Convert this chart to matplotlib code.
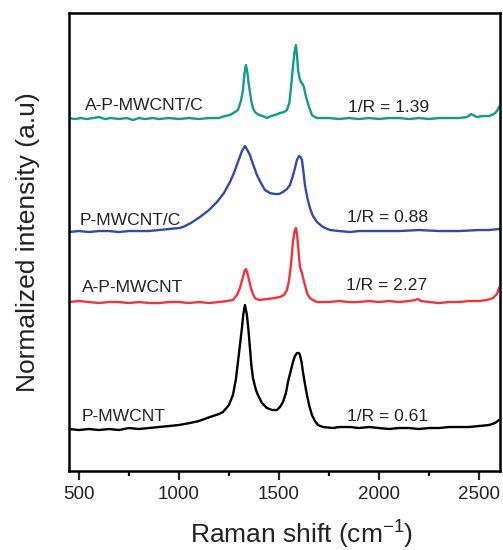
import matplotlib
matplotlib.use("Agg")
import matplotlib.pyplot as plt
from matplotlib.ticker import MultipleLocator

plt.rcParams.update({
    "font.family": ["Liberation Sans", "DejaVu Sans"],
    "mathtext.default": "regular",
})

TEAL = "#119A8F"
BLUE = "#3549A8"
RED = "#F2333B"
BLACK = "#000000"

# spectra (Raman shift in cm-1, stacked intensity in a.u.)
x_pmwcnt = [450, 500, 550, 600, 650, 700, 750, 800, 850, 900, 950, 1000, 1055, 1100,
            1155, 1200, 1220, 1250, 1270, 1285, 1295, 1305, 1315, 1322, 1330, 1340,
            1348, 1355, 1362, 1370, 1385, 1395, 1415, 1440, 1465, 1490, 1505, 1520,
            1535, 1545, 1560, 1570, 1580, 1590, 1600, 1605, 1613, 1620, 1630, 1640,
            1652, 1665, 1680, 1695, 1720, 1770, 1800, 1855, 1900, 1950, 2000, 2050,
            2100, 2150, 2200, 2250, 2300, 2350, 2400, 2450, 2500, 2550, 2580, 2600]
y_pmwcnt = [42, 41, 42, 41, 42, 41, 43, 42, 43, 44, 45, 46, 48, 50,
            54, 57, 59, 66, 76, 92, 109, 126, 143, 157, 166, 156,
            140, 123, 106, 93, 81, 76, 68, 63, 61, 61, 64, 69,
            78, 89, 101, 109, 115, 118, 118, 116, 109, 99, 87, 76,
            65, 56, 50, 46, 44, 43, 44, 44, 43, 44, 43, 42,
            43, 43, 42, 43, 43, 44, 44, 44, 45, 46, 48, 51]

x_apmwcnt = [450, 500, 550, 600, 650, 700, 750, 800, 850, 900, 950, 1000, 1050, 1100,
             1150, 1200, 1240, 1270, 1290, 1305, 1320, 1328, 1335, 1342, 1348, 1360,
             1370, 1380, 1400, 1440, 1480, 1505, 1525, 1540, 1550, 1560, 1570, 1578,
             1585, 1591, 1597, 1605, 1615, 1622, 1630, 1642, 1655, 1670, 1690, 1750,
             1800, 1850, 1900, 1950, 2000, 2050, 2100, 2150, 2180, 2195, 2210, 2250,
             2300, 2350, 2400, 2450, 2500, 2540, 2570, 2590, 2600]
y_apmwcnt = [169, 170, 169, 168, 169, 169, 168, 169, 168, 168, 169, 169, 168, 169,
             168, 169, 170, 171, 176, 183, 194, 200, 202, 198, 193, 183,
             177, 173, 171, 172, 173, 174, 176, 181, 190, 206, 229, 240,
             243, 236, 222, 204, 198, 192, 186, 177, 173, 171, 169, 169,
             170, 169, 169, 170, 169, 170, 169, 170, 171, 172, 170, 169,
             168, 169, 169, 170, 170, 171, 173, 177, 183]

x_pmwcnt_c = [450, 500, 550, 600, 650, 700, 750, 800, 850, 900, 950, 1000, 1020, 1060,
              1105, 1150, 1190, 1225, 1255, 1275, 1295, 1315, 1330, 1342, 1355, 1370,
              1390, 1410, 1430, 1455, 1480, 1500, 1520, 1540, 1555, 1568, 1580, 1590,
              1600, 1608, 1615, 1622, 1630, 1642, 1655, 1670, 1690, 1720, 1755, 1800,
              1855, 1900, 1950, 2000, 2100, 2200, 2300, 2400, 2500, 2550, 2600]
y_pmwcnt_c = [239, 240, 239, 240, 240, 239, 240, 240, 240, 241, 242, 243, 244, 248,
              254, 261, 269, 278, 289, 298, 309, 320, 325, 321, 316, 307,
              296, 288, 281, 278, 277, 277, 279, 282, 286, 294, 303, 311,
              315, 314, 311, 300, 286, 273, 263, 255, 249, 244, 241, 240,
              239, 240, 240, 240, 240, 241, 240, 240, 241, 241, 242]

x_apmwcnt_c = [450, 480, 510, 540, 570, 600, 630, 660, 700, 740, 770, 800, 830, 870,
               900, 950, 1000, 1050, 1100, 1150, 1200, 1230, 1255, 1280, 1295, 1310,
               1320, 1328, 1335, 1341, 1347, 1354, 1362, 1370, 1380, 1400, 1420, 1440,
               1460, 1480, 1505, 1525, 1540, 1552, 1560, 1568, 1577, 1585, 1591, 1596,
               1603, 1610, 1618, 1625, 1633, 1640, 1652, 1665, 1680, 1690, 1750, 1800,
               1850, 1900, 1950, 2000, 2050, 2100, 2150, 2200, 2250, 2300, 2350, 2400,
               2440, 2460, 2470, 2490, 2520, 2550, 2575, 2590, 2600]
y_apmwcnt_c = [353, 352, 353, 352, 353, 354, 352, 353, 352, 353, 351, 353, 352, 353,
               352, 353, 352, 353, 352, 353, 353, 355, 356, 359, 361, 370,
               381, 398, 406, 400, 390, 380, 370, 363, 359, 356, 355, 353,
               355, 356, 358, 359, 361, 368, 383, 400, 418, 426, 414, 400,
               393, 389, 387, 384, 376, 371, 363, 356, 354, 353, 353, 352,
               353, 352, 353, 352, 353, 353, 352, 353, 352, 353, 353, 353,
               354, 357, 356, 354, 355, 355, 357, 360, 364]

names = ["P-MWCNT", "A-P-MWCNT", "P-MWCNT/C", "A-P-MWCNT/C"]
ratios = ["1/R = 0.61", "1/R = 2.27", "1/R = 0.88", "1/R = 1.39"]
xs = [x_pmwcnt, x_apmwcnt, x_pmwcnt_c, x_apmwcnt_c]
ys = [y_pmwcnt, y_apmwcnt, y_pmwcnt_c, y_apmwcnt_c]
colors = [BLACK, RED, BLUE, TEAL]

# where the name / ratio labels sit (x in cm-1, y in a.u.)
name_pos = [(515, 55), (515, 184), (505, 251), (530, 366)]
ratio_pos = [(1840, 55), (1835, 186), (1840, 254), (1845, 364)]

fig = plt.figure(figsize=(5.03, 5.50), dpi=100)
ax = fig.add_axes([0.137, 0.1436, 0.857, 0.8327])

for x, y, c in zip(xs, ys, colors):
    ax.plot(x, y, color=c, lw=1.7)

for name, r, (nx, ny), (rx, ry) in zip(names, ratios, name_pos, ratio_pos):
    ax.text(nx, ny, name, fontsize=12.6, color="#222222", ha="left", va="center")
    ax.text(rx, ry, r, fontsize=12.6, color="#222222", ha="left", va="center")

ax.set_xlim(450, 2605)
ax.set_ylim(0, 458)
ax.xaxis.set_major_locator(MultipleLocator(500))
ax.xaxis.set_minor_locator(MultipleLocator(250))
ax.tick_params(axis="x", which="major", direction="out", length=6.5, width=1.6,
               labelsize=13.5, colors="#222222", pad=4)
ax.tick_params(axis="x", which="minor", direction="out", length=3.5, width=1.6)
ax.set_yticks([])
for s in ax.spines.values():
    s.set_linewidth(1.8)

ax.set_xlabel("Raman shift (cm$^{-1}$)", fontsize=19, color="#222222",
              labelpad=12, x=0.54)
ax.set_ylabel("Normalized intensity (a.u)", fontsize=19, color="#222222", labelpad=21)

fig.savefig("out.png", dpi=100)
